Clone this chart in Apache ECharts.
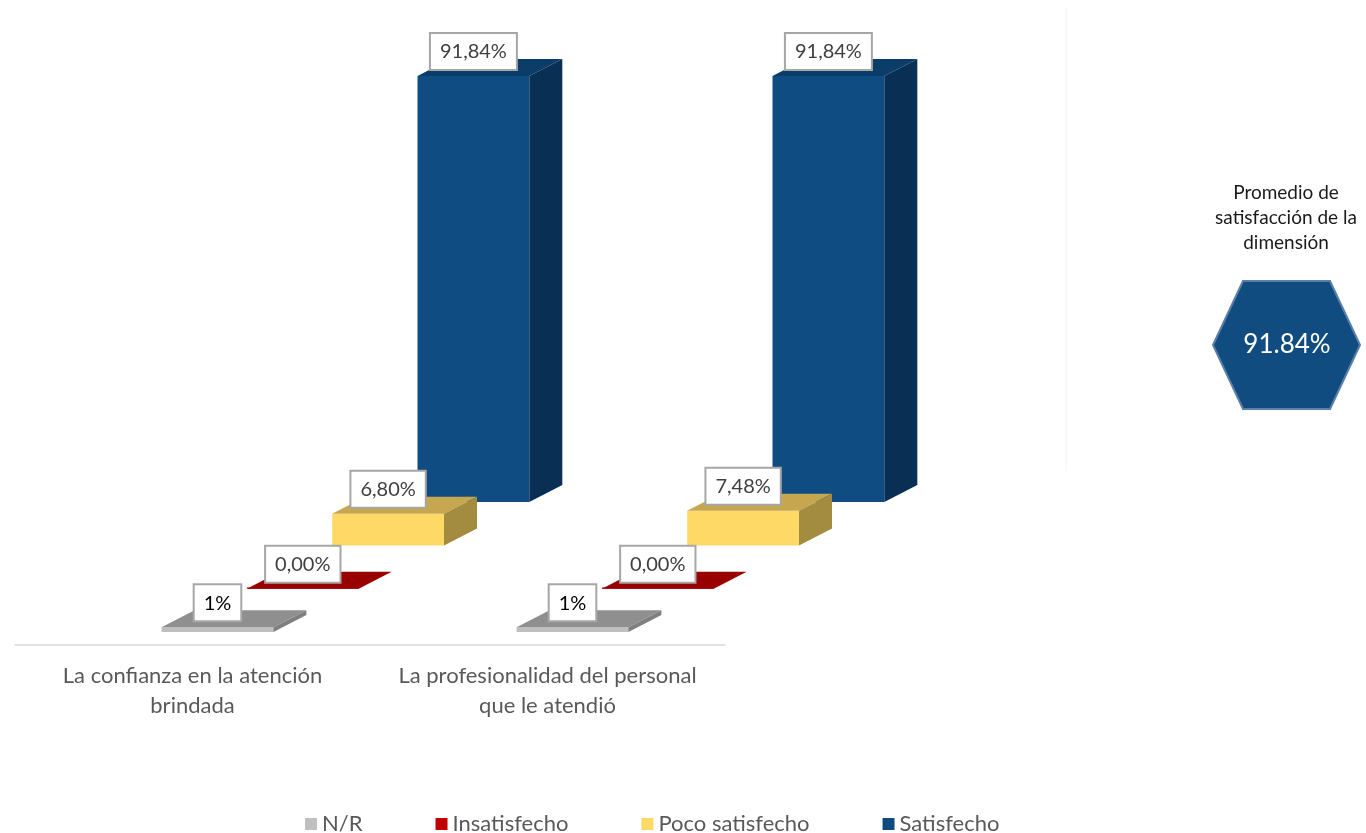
<!DOCTYPE html>
<html>
<head>
<meta charset="utf-8">
<script src="https://cdn.jsdelivr.net/npm/echarts@6/dist/echarts.min.js"></script>
<style>
  html, body { margin: 0; padding: 0; background: #ffffff; }
  #chart { width: 1366px; height: 833px; }
</style>
</head>
<body>
<div id="chart"></div>
<script>
// Survey items (x categories)
const categories = [
  'La confianza en la atención\nbrindada',
  'La profesionalidad del personal\nque le atendió'
];

// Response groups, front to back
const seriesNames = ['N/R', 'Insatisfecho', 'Poco satisfecho', 'Satisfecho'];

// Percentages per item
const nrValues = [1, 1];
const insatisfechoValues = [0.00, 0.00];
const pocoSatisfechoValues = [6.80, 7.48];
const satisfechoValues = [91.84, 91.84];

// Decimals shown in each group's value label
const labelDecimals = [0, 2, 2, 2];

const valueSets = [nrValues, insatisfechoValues, pocoSatisfechoValues, satisfechoValues];

// Average satisfaction of the dimension
const promedio = satisfechoValues.reduce((a, b) => a + b, 0) / satisfechoValues.length;

// Face colours for the extruded bars
const palette = [
  { legend: '#BFBFBF', front: '#BFBFBF', top: '#8F8F8F', side: '#7F7F7F', text: '#000000' },
  { legend: '#C00000', front: '#C00000', top: '#990000', side: '#7A0000', text: '#404040' },
  { legend: '#FFD966', front: '#FFD966', top: '#C6A750', side: '#A38B3F', text: '#404040' },
  { legend: '#0F4C81', front: '#0F4C81', top: '#0C3C68', side: '#0A2F55', text: '#404040' }
];

const FONT = 'Lato, "Open Sans", sans-serif';

function fmt(v, d) {
  return v.toFixed(d).replace('.', ',') + '%';
}

// Each group sits one step further back (right and up) than the previous one
function makeRender(s) {
  return function (params, api) {
    const cat = api.value(0);
    const val = api.value(1);
    const base = api.coord([cat, 0]);
    const top = api.coord([cat, val]);
    const band = api.size([1, 0])[0];
    const w = band * 0.315;
    const cx = base[0] + band * (0.0704 + s * 0.2403);
    const lift = s * 43.3;
    const x0 = cx - w / 2, x1 = cx + w / 2;
    const yb = base[1] - lift;
    const yt = top[1] - lift;
    const dx = 33, dy = -17;
    const c = palette[s];
    const h = Math.max(yb - yt, 1.2);
    return {
      type: 'group',
      children: [
        { type: 'rect', shape: { x: x0, y: yb - h, width: w, height: h }, style: { fill: c.front } },
        { type: 'polygon', shape: { points: [[x0, yt], [x0 + dx, yt + dy], [x1 + dx, yt + dy], [x1, yt]] }, style: { fill: c.top } },
        { type: 'polygon', shape: { points: [[x1, yt], [x1 + dx, yt + dy], [x1 + dx, yb + dy], [x1, yb]] }, style: { fill: c.side } },
        {
          type: 'text',
          x: cx,
          y: yt - 7,
          style: {
            text: fmt(val, labelDecimals[s]),
            fontSize: 20,
            fontFamily: FONT,
            fill: c.text,
            align: 'center',
            verticalAlign: 'bottom',
            backgroundColor: '#ffffff',
            borderColor: '#A6A6A6',
            borderWidth: 2,
            padding: [8, 9, 7, 9]
          }
        }
      ]
    };
  };
}

const series = seriesNames.map((name, s) => ({
  name: name,
  type: 'custom',
  z: 5 - s,
  clip: false,
  itemStyle: { color: palette[s].legend },
  renderItem: makeRender(s),
  data: valueSets[s].map((v, i) => [i, v])
}));

const chart = echarts.init(document.getElementById('chart'), null, { renderer: 'canvas' });

chart.setOption({
  animation: false,
  backgroundColor: '#ffffff',
  grid: { left: 15, width: 710, top: 168, bottom: 201, containLabel: false },
  xAxis: {
    type: 'category',
    data: categories,
    offset: 13,
    axisLine: { show: true, onZero: false, lineStyle: { color: '#D9D9D9', width: 1.5 } },
    axisTick: { show: false },
    axisLabel: {
      interval: 0,
      margin: 16,
      fontSize: 22,
      lineHeight: 30,
      fontFamily: FONT,
      color: '#595959',
      align: 'center'
    }
  },
  yAxis: {
    type: 'value',
    min: 0,
    max: 100,
    show: false,
    splitLine: { show: false }
  },
  legend: {
    data: seriesNames,
    left: 300,
    top: 808,
    icon: 'rect',
    itemWidth: 12,
    itemHeight: 12,
    itemGap: 73,
    textStyle: { fontSize: 22, fontFamily: FONT, color: '#595959' }
  },
  graphic: [
    {
      type: 'polyline',
      shape: { points: [[1066, 7], [1066, 471]] },
      style: { stroke: '#F2F2F2', lineWidth: 1, fill: null },
      silent: true
    },
    {
      type: 'text',
      x: 1286,
      y: 180,
      style: {
        text: 'Promedio de\nsatisfacción de la\ndimensión',
        fontSize: 19,
        lineHeight: 25,
        fontFamily: FONT,
        fill: '#1A1A1A',
        align: 'center',
        verticalAlign: 'top'
      }
    },
    {
      type: 'polygon',
      shape: { points: [[1213, 345], [1243, 281], [1330, 281], [1360, 345], [1330, 409], [1243, 409]] },
      style: { fill: '#114C80', stroke: '#5B7FA8', lineWidth: 2 }
    },
    {
      type: 'text',
      x: 1287,
      y: 345,
      style: {
        text: promedio.toFixed(2) + '%',
        fontSize: 26,
        fontFamily: FONT,
        fill: '#ffffff',
        align: 'center',
        verticalAlign: 'middle'
      }
    }
  ],
  series: series
});
</script>
</body>
</html>
